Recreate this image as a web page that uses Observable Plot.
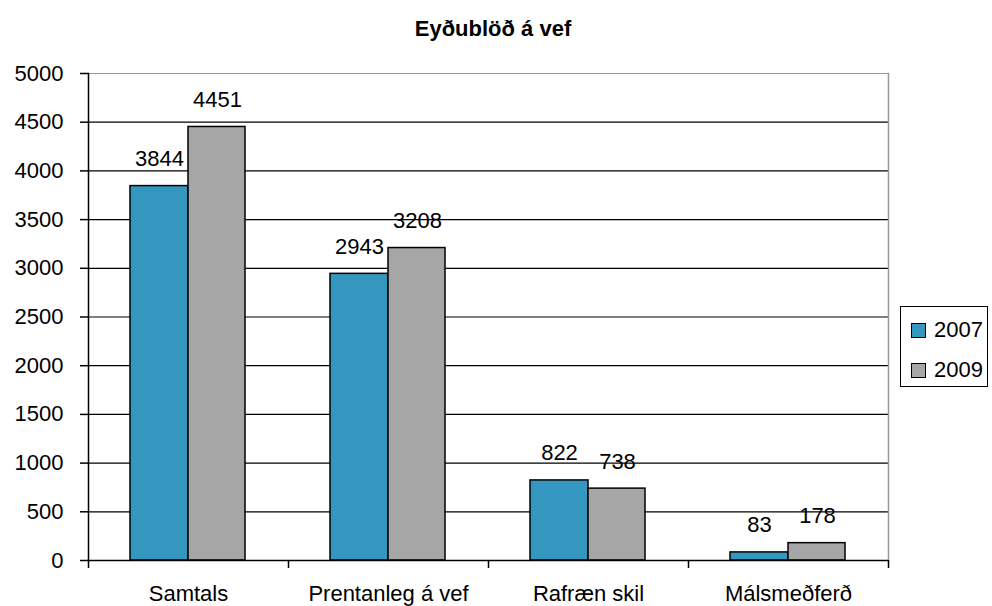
<!DOCTYPE html>
<html>
<head>
<meta charset="utf-8">
<script src="https://cdn.jsdelivr.net/npm/d3@7"></script>
<script src="https://cdn.jsdelivr.net/npm/@observablehq/plot@0.6"></script>
<style>
  html, body { margin: 0; padding: 0; background: #fff; }
  #wrap { position: relative; width: 992px; height: 606px; font-family: "Liberation Sans", Arial, sans-serif; }
  #title { position: absolute; left: 0; width: 986px; top: 16px; text-align: center; font-weight: bold; font-size: 22px; color: #000; }
  #legend { position: absolute; left: 900px; top: 306px; width: 88px; height: 81px; border: 1.5px solid #000; box-sizing: border-box; background: #fff; }
  .item { position: absolute; left: 10px; font-size: 22px; line-height: 22px; color: #000; display: flex; align-items: center; }
  .sw { width: 13px; height: 13px; border: 1px solid #000; margin-right: 8px; }
  #chart { position: absolute; left: 0; top: 0; }
</style>
</head>
<body>
<div id="wrap">
  <div id="chart"></div>
  <div id="title"></div>
  <div id="legend"></div>
</div>
<script>
const title = "Eyðublöð á vef";
const categories = ["Samtals", "Prentanleg á vef", "Rafræn skil", "Málsmeðferð"];
const years = ["2007", "2009"];
const values2007 = [3844, 2943, 822, 83];
const values2009 = [4451, 3208, 738, 178];
const yTicks = [0, 500, 1000, 1500, 2000, 2500, 3000, 3500, 4000, 4500, 5000];
const colors = ["#3397c0", "#a6a6a6"];

const d2007 = categories.map((c, i) => ({category: c, value: values2007[i]}));
const d2009 = categories.map((c, i) => ({category: c, value: values2009[i]}));

const font = "'Liberation Sans', Arial, sans-serif";

const chart = Plot.plot({
  width: 992,
  height: 606,
  marginLeft: 88,
  marginRight: 104,
  marginTop: 73,
  marginBottom: 46,
  style: {fontFamily: font, color: "#000", background: "#fff", overflow: "visible"},
  x: {domain: categories, padding: 0, axis: null, label: null},
  y: {domain: [0, 5000], axis: null, label: null},
  marks: [
    Plot.ruleY(yTicks.filter(t => t > 0 && t < 5000), {stroke: "#000", strokeWidth: 1.2}),
    Plot.ruleY([5000], {stroke: "#999", strokeWidth: 1.2}),
    Plot.frame({anchor: "right", stroke: "#999", strokeWidth: 1.5}),
    Plot.barY(d2007, {x: "category", y: "value", fill: colors[0], stroke: "#000", strokeWidth: 1.5, insetLeft: 42, insetRight: 100}),
    Plot.barY(d2009, {x: "category", y: "value", fill: colors[1], stroke: "#000", strokeWidth: 1.5, insetLeft: 100, insetRight: 43}),
    Plot.text(d2007, {x: "category", y: "value", text: d => String(d.value), dx: -29, dy: -27, fontSize: 22, fill: "#000"}),
    Plot.text(d2009, {x: "category", y: "value", text: d => String(d.value), dx: 29, dy: -27, fontSize: 22, fill: "#000"}),
    Plot.ruleY([0], {stroke: "#000", strokeWidth: 1.5}),
    Plot.frame({anchor: "left", stroke: "#000", strokeWidth: 1.5}),
    Plot.axisY({ticks: yTicks, tickSize: 8, tickPadding: 17, fontSize: 22, label: null, tickFormat: d => String(d), strokeWidth: 1.5}),
    Plot.axisX({tickSize: 0, tickPadding: 25, fontSize: 22, label: null}),
    Plot.axisX({text: null, label: null, tickSize: 8, dx: -100, strokeWidth: 1.5}),
    Plot.axisX([categories[categories.length - 1]], {text: null, label: null, tickSize: 8, dx: 100, strokeWidth: 1.5})
  ]
});
document.getElementById("chart").appendChild(chart);
document.getElementById("title").textContent = title;

const legend = document.getElementById("legend");
years.forEach((y, i) => {
  const it = document.createElement("div");
  it.className = "item";
  it.style.top = (i === 0 ? 12 : 52) + "px";
  const sw = document.createElement("div");
  sw.className = "sw";
  sw.style.background = colors[i];
  const t = document.createElement("span");
  t.textContent = y;
  it.appendChild(sw);
  it.appendChild(t);
  legend.appendChild(it);
});
</script>
</body>
</html>
